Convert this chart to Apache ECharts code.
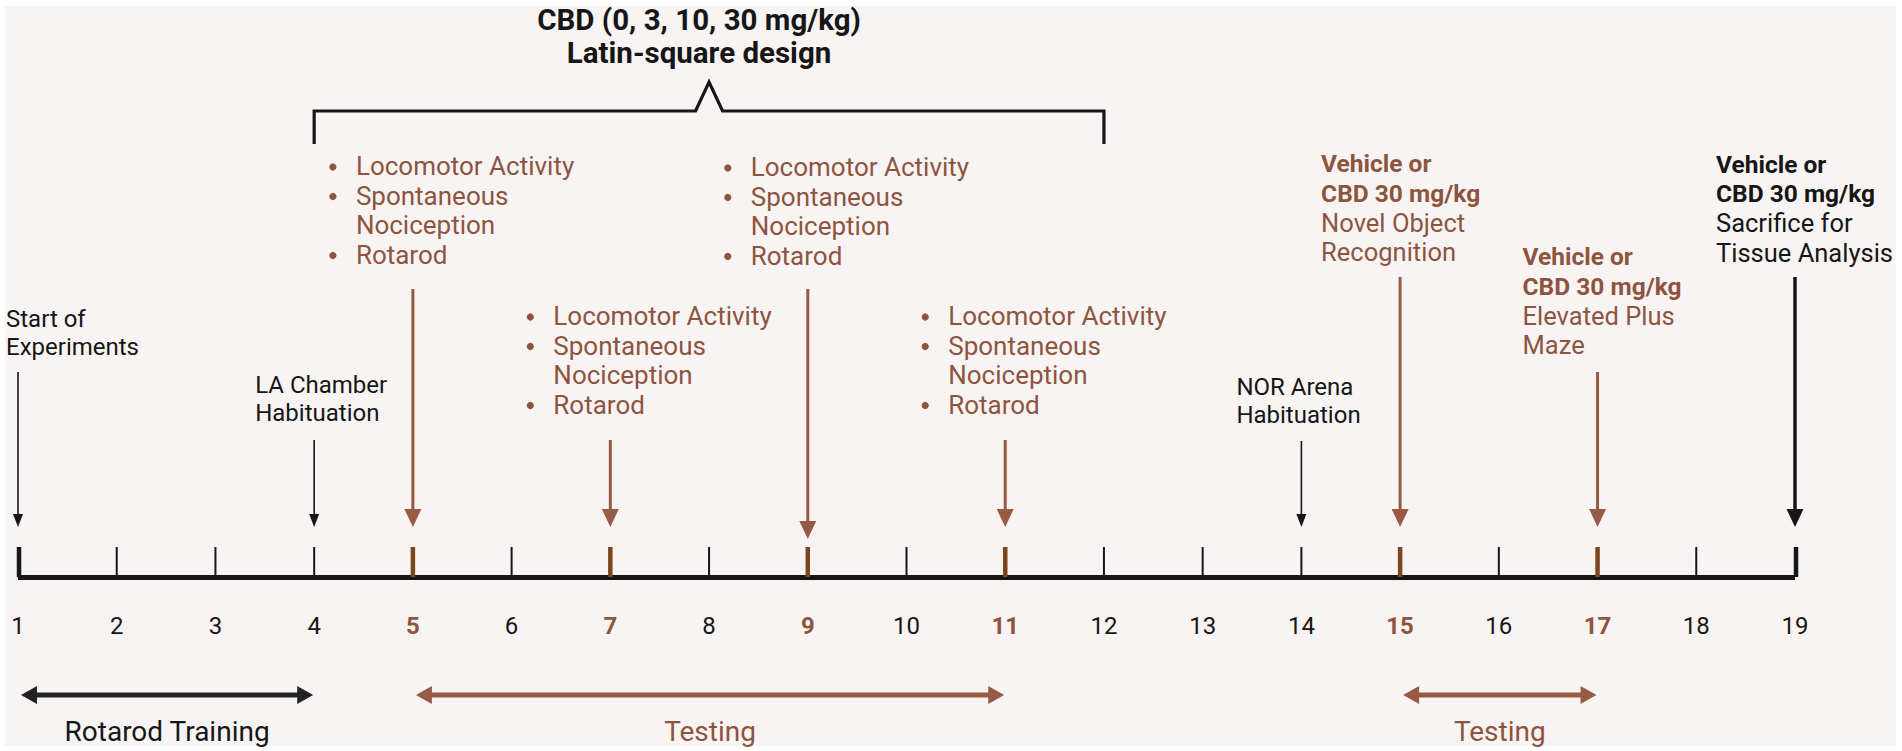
<!DOCTYPE html>
<html>
<head>
<meta charset="utf-8">
<script src="https://cdn.jsdelivr.net/npm/echarts@6/dist/echarts.min.js"></script>
<style>
  html, body { margin: 0; padding: 0; background: #ffffff; }
  #chart { width: 1902px; height: 751px; }
</style>
</head>
<body>
<div id="chart"></div>
<script>
// timeline days
const days = [1, 2, 3, 4, 5, 6, 7, 8, 9, 10, 11, 12, 13, 14, 15, 16, 17, 18, 19];
const testDays = [5, 7, 9, 11, 15, 17];

// thin black arrows with notes
const noteDays = [1, 4, 14];
const noteLines = [['Start of', 'Experiments'], ['LA Chamber', 'Habituation'], ['NOR Arena', 'Habituation']];

// behavioural battery days
const batteryDays = [5, 7, 9, 11];
const batteryItems = [['Locomotor Activity'], ['Spontaneous', 'Nociception'], ['Rotarod']];

// single dose days
const doseDays = [15, 17, 19];
const doseHead = ['Vehicle or', 'CBD 30 mg/kg'];
const doseTasks = [['Novel Object', 'Recognition'], ['Elevated Plus', 'Maze'], ['Sacrifice for', 'Tissue Analysis']];

// CBD latin-square bracket
const cbdSpan = [4, 12];
const cbdTitle = ['CBD (0, 3, 10, 30 mg/kg)', 'Latin-square design'];

// phases under the axis
const phaseStart = [1, 5, 15];
const phaseEnd = [4, 11, 17];
const phaseNames = ['Rotarod Training', 'Testing', 'Testing'];

// ---- layout / styles (pixel rows, since y axis maps 1:1) ----
const INK = '#161616';
const BROWN = '#8d5440';
const ARROW_BROWN = '#985a45';
const TICK_BROWN = '#7b4520';
const FONT = 'Roboto';
const AXIS_Y = 577;
const TICK_TOP = 547;
const arrowTop = { 1: 372, 4: 440, 5: 289, 7: 440, 9: 289, 11: 440, 14: 441, 15: 277, 17: 372, 19: 277 };
const arrowTip = { 9: 539 };
const noteLayout = { 1: [319, -12], 4: [385, -59], 14: [387, -65] };
const batteryTop = { 5: 166, 7: 316, 9: 167, 11: 316 };
const doseLayout = { 15: [163.5, -79], 17: [256.5, -75], 19: [164, -79] };

const chart = echarts.init(document.getElementById('chart'), null, { renderer: 'svg' });

function textEl(x, y, s, color, size, weight, align) {
  return {
    type: 'text',
    style: {
      x: x, y: y, text: s, fill: color,
      font: (weight || 'normal') + ' ' + size + 'px ' + FONT,
      textAlign: align || 'left', textVerticalAlign: 'middle'
    }
  };
}

function arrowEl(x, y0, y1, color, width, headW, headL) {
  return {
    type: 'group',
    children: [
      { type: 'line', shape: { x1: x, y1: y0, x2: x, y2: y1 - headL + 1 }, style: { stroke: color, lineWidth: width } },
      { type: 'polygon', shape: { points: [[x - headW / 2, y1 - headL], [x + headW / 2, y1 - headL], [x, y1]] }, style: { fill: color } }
    ]
  };
}

function arrowStyle(day) {
  if (noteDays.indexOf(day) >= 0) return [INK, 1.6, 10, 13];
  if (day === 19) return [INK, 3.5, 17, 18];
  return [ARROW_BROWN, 3, 17, 18];
}

const arrowDays = noteDays.concat(batteryDays, doseDays).sort((a, b) => a - b);

const option = {
  backgroundColor: '#ffffff',
  animation: false,
  graphic: [{
    type: 'rect', z: -10,
    shape: { x: 5, y: 6, width: 1891, height: 740 },
    style: { fill: '#f8f4f3' }
  }],
  grid: { left: 18, right: 107, top: 0, height: AXIS_Y },
  xAxis: {
    type: 'value', min: 1, max: 19, interval: 1, position: 'bottom',
    axisLine: { show: true, onZero: false, lineStyle: { color: INK, width: 5, cap: 'butt' } },
    axisTick: { show: false },
    splitLine: { show: false },
    axisLabel: {
      margin: 37,
      formatter: v => testDays.indexOf(v) >= 0 ? '{b|' + v + '}' : '{n|' + v + '}',
      rich: {
        n: { color: INK, fontFamily: FONT, fontSize: 24 },
        b: { color: BROWN, fontFamily: FONT, fontSize: 24, fontWeight: 'bold' }
      }
    }
  },
  yAxis: { type: 'value', min: 0, max: AXIS_Y, inverse: true, show: false },
  series: [
    // axis ticks
    {
      type: 'custom', clip: false,
      data: days.map(d => [d]),
      renderItem: (params, api) => {
        const d = api.value(0);
        const p0 = api.coord([d, TICK_TOP]);
        const p1 = api.coord([d, AXIS_Y]);
        const brown = testDays.indexOf(d) >= 0;
        const end = d === days[0] || d === days[days.length - 1];
        const dx = end ? 1 : 0;
        return {
          type: 'line',
          shape: { x1: p0[0] + dx, y1: p0[1], x2: p1[0] + dx, y2: p1[1] },
          style: { stroke: brown ? TICK_BROWN : INK, lineWidth: end ? 4.5 : (brown ? 4.5 : 2) }
        };
      }
    },
    // arrows pointing to the axis
    {
      type: 'custom', clip: false,
      data: arrowDays.map(d => [d]),
      renderItem: (params, api) => {
        const d = api.value(0);
        const top = api.coord([d, arrowTop[d]]);
        const tip = api.coord([d, arrowTip[d] || 527]);
        const s = arrowStyle(d);
        return arrowEl(top[0], top[1], tip[1], s[0], s[1], s[2], s[3]);
      }
    },
    // notes above thin arrows
    {
      type: 'custom', clip: false,
      data: noteDays.map((d, i) => [d, i]),
      renderItem: (params, api) => {
        const d = api.value(0), i = api.value(1);
        const p = api.coord([d, noteLayout[d][0]]);
        const x = p[0] + noteLayout[d][1];
        return {
          type: 'group',
          children: noteLines[i].map((s, k) => textEl(x, p[1] + k * 28, s, INK, 24))
        };
      }
    },
    // battery bullet lists
    {
      type: 'custom', clip: false,
      data: batteryDays.map(d => [d]),
      renderItem: (params, api) => {
        const d = api.value(0);
        const p = api.coord([d, batteryTop[d]]);
        const children = [];
        let row = 0;
        batteryItems.forEach(item => {
          item.forEach((s, k) => {
            const y = p[1] + row * 29.5;
            if (k === 0) children.push({ type: 'circle', shape: { cx: p[0] - 80, cy: y + 1, r: 3.6 }, style: { fill: BROWN } });
            children.push(textEl(p[0] - 57, y, s, BROWN, 26));
            row++;
          });
        });
        return { type: 'group', children: children };
      }
    },
    // dose blocks
    {
      type: 'custom', clip: false,
      data: doseDays.map((d, i) => [d, i]),
      renderItem: (params, api) => {
        const d = api.value(0), i = api.value(1);
        const p = api.coord([d, doseLayout[d][0]]);
        const x = p[0] + doseLayout[d][1];
        const color = d === 19 ? INK : BROWN;
        const children = [];
        doseHead.forEach((s, k) => children.push(textEl(x, p[1] + k * 29.5, s, color, 24.5, 'bold')));
        doseTasks[i].forEach((s, k) => children.push(textEl(x, p[1] + (k + 2) * 29.5, s, color, 25.5)));
        return { type: 'group', children: children };
      }
    },
    // CBD bracket with title
    {
      type: 'custom', clip: false,
      data: [[cbdSpan[0], cbdSpan[1]]],
      renderItem: (params, api) => {
        const a = api.coord([api.value(0), 144]);
        const b = api.coord([api.value(1), 111]);
        const mid = (a[0] + b[0]) / 2;
        const yb = b[1];
        return {
          type: 'group',
          children: [
            {
              type: 'polyline',
              shape: { points: [[a[0], a[1]], [a[0], yb], [mid - 13.5, yb], [mid, 82], [mid + 13.5, yb], [b[0], yb], [b[0], a[1]]] },
              style: { stroke: INK, lineWidth: 3.2, fill: null, lineJoin: 'miter' }
            },
            textEl(mid - 10, 20, cbdTitle[0], INK, 29.5, 'bold', 'center'),
            textEl(mid - 10, 53, cbdTitle[1], INK, 29.5, 'bold', 'center')
          ]
        };
      }
    },
    // phase double arrows with names
    {
      type: 'custom', clip: false,
      data: phaseStart.map((s, i) => [s, phaseEnd[i], i]),
      renderItem: (params, api) => {
        const i = api.value(2);
        const a = api.coord([api.value(0), 695]);
        const b = api.coord([api.value(1), 695]);
        const x0 = a[0] + 3, x1 = b[0] - 1, y = a[1];
        const color = i === 0 ? '#222222' : ARROW_BROWN;
        const hl = 16, hw = 9;
        return {
          type: 'group',
          children: [
            { type: 'line', shape: { x1: x0 + hl - 1, y1: y, x2: x1 - hl + 1, y2: y }, style: { stroke: color, lineWidth: 5 } },
            { type: 'polygon', shape: { points: [[x0, y], [x0 + hl, y - hw], [x0 + hl, y + hw]] }, style: { fill: color } },
            { type: 'polygon', shape: { points: [[x1, y], [x1 - hl, y - hw], [x1 - hl, y + hw]] }, style: { fill: color } },
            textEl((x0 + x1) / 2, 731, phaseNames[i], i === 0 ? INK : BROWN, 28, 'normal', 'center')
          ]
        };
      }
    }
  ]
};

chart.setOption(option);
</script>
</body>
</html>
